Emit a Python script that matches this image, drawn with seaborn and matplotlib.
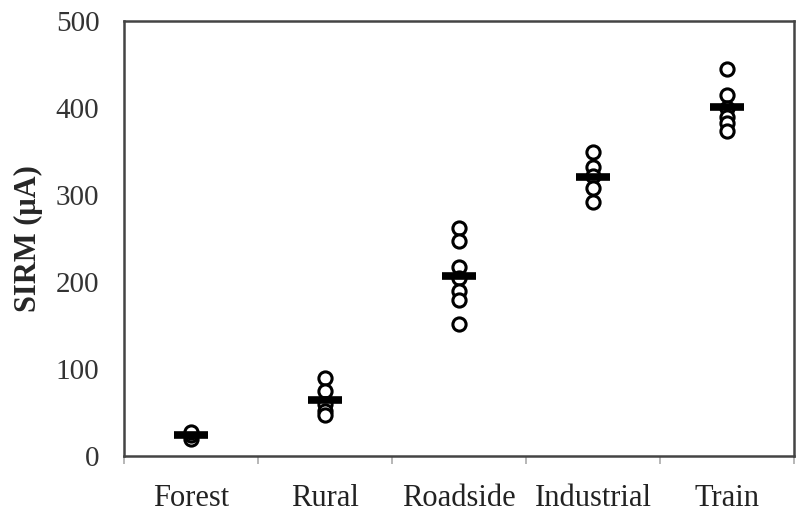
import numpy as np
import pandas as pd
import matplotlib
matplotlib.use("Agg")
import matplotlib.pyplot as plt
import seaborn as sns
from matplotlib.ticker import FixedLocator

categories = ["Forest", "Rural", "Roadside", "Industrial", "Train"]
forest = [20, 24, 28]
rural = [90, 75, 60, 52, 47]
roadside = [262, 247, 218, 205, 190, 180, 152]
industrial = [350, 333, 322, 308, 292]
train = [445, 415, 400, 390, 383, 374]
y_ticks = [0, 100, 200, 300, 400, 500]

series = [forest, rural, roadside, industrial, train]
df = pd.DataFrame({
    "site": [c for c, vals in zip(categories, series) for _ in vals],
    "SIRM": [v for vals in series for v in vals],
})
df["site"] = pd.Categorical(df["site"], categories=categories, ordered=True)

sns.set_theme(style="white")
plt.rcParams["font.family"] = ["Liberation Serif", "DejaVu Serif"]

fig = plt.figure(figsize=(7.98, 5.19), dpi=100)
ax = fig.add_axes([0.155, 0.121, 0.840, 0.838])

sns.stripplot(data=df, x="site", y="SIRM", order=categories, jitter=False,
              marker="o", size=9.5, facecolor="white", edgecolor="black",
              linewidth=2.2, color="white", ax=ax, zorder=2)
sns.pointplot(data=df, x="site", y="SIRM", order=categories, estimator="mean",
              errorbar=None, markers="_", linestyles="none", color="black",
              markersize=25, markeredgewidth=5.5, ax=ax)
for coll in ax.collections:
    coll.set_edgecolor("black")
    coll.set_facecolor("white")
for ln in ax.lines:
    ln.set_zorder(5)

ax.set_xlim(-0.5, 4.5)
ax.set_ylim(0, 500)
ax.set_yticks(y_ticks)
ax.set_yticklabels([str(t) for t in y_ticks], fontsize=21, color="#333333")
ax.set_xticks(range(len(categories)))
ax.set_xticklabels(categories, fontsize=22, color="#222222")
ax.xaxis.set_minor_locator(FixedLocator(np.arange(-0.5, 5.0, 1.0)))
ax.tick_params(axis="x", which="major", length=0, pad=20)
ax.tick_params(axis="x", which="minor", length=6, width=1.2, color="#aaaaaa", bottom=True)
ax.tick_params(axis="y", length=0, pad=17.5)
ax.set_xlabel("")
ax.set_ylabel("SIRM (μA)", fontsize=22, fontweight="bold", labelpad=9)
for s in ax.spines.values():
    s.set_visible(True)
    s.set_color("#444444")
    s.set_linewidth(1.8)
ax.grid(False)

fig.savefig("out.png", dpi=100)
